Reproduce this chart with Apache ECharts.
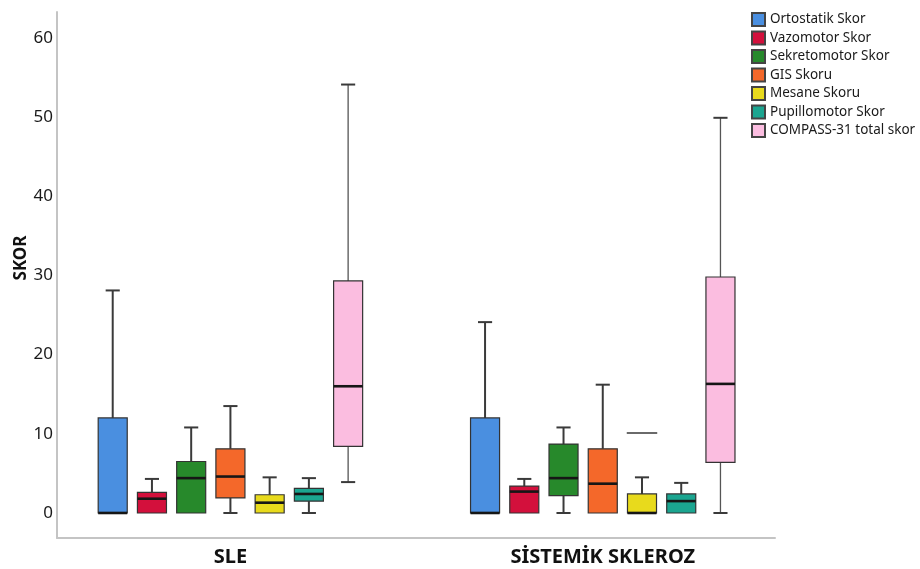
<!DOCTYPE html>
<html>
<head>
<meta charset="utf-8">
<title>COMPASS-31 skorları</title>
<script src="https://cdn.jsdelivr.net/npm/echarts@6/dist/echarts.min.js"></script>
<style>
  html, body { margin: 0; padding: 0; background: #ffffff; }
  #chart { width: 920px; height: 569px; }
</style>
</head>
<body>
<div id="chart"></div>
<script>
// Hasta grupları (x ekseni)
const groups = ['SLE', 'SİSTEMİK SKLEROZ'];

// Alt skorlar (lejant sırası)
const scores = [
  'Ortostatik Skor',
  'Vazomotor Skor',
  'Sekretomotor Skor',
  'GIS Skoru',
  'Mesane Skoru',
  'Pupillomotor Skor',
  'COMPASS-31 total skor'
];

const scoreColors = ['#4a8fe0', '#d3103c', '#27892b', '#f4682a', '#e8da1c', '#1ba590', '#fbbde0'];

// Kutu grafiği istatistikleri: [min, Q1, medyan, Q3, maks]
const sleStats = [
  [0, 0, 0, 12.0, 28.1],
  [0, 0, 1.8, 2.6, 4.3],
  [0, 0, 4.4, 6.5, 10.8],
  [0, 1.9, 4.6, 8.1, 13.5],
  [0, 0, 1.3, 2.3, 4.5],
  [0, 1.5, 2.4, 3.1, 4.4],
  [3.9, 8.4, 16.0, 29.3, 54.1]
];

const sscStats = [
  [0, 0, 0, 12.0, 24.1],
  [0, 0, 2.7, 3.4, 4.3],
  [0, 2.2, 4.4, 8.7, 10.8],
  [0, 0, 3.7, 8.1, 16.2],
  [0, 0, 0, 2.4, 4.5],
  [0, 0, 1.5, 2.4, 3.8],
  [0, 6.4, 16.3, 29.8, 49.9]
];

// Aykırı değerler: [grup indeksi, skor indeksi, değer]
const outliers = [
  [1, 4, 10.1]
];

const yTicks = [0, 10, 20, 30, 40, 50, 60];

// ---- layout (x axis runs in units of one box pitch) ----
const X_MAX = 18.3;
const groupCenters = [4.42, 13.91];
const BOX_W = 0.74;
const CAP_W = 0.36;
const FONT = '"Noto Sans", "Open Sans", sans-serif';

function boxX(g, k) {
  return groupCenters[g] + (k - (scores.length - 1) / 2);
}

function groupLabel(v) {
  let best = 0;
  groupCenters.forEach(function (c, i) {
    if (Math.abs(c - v) < Math.abs(groupCenters[best] - v)) best = i;
  });
  return groups[best];
}

function makeBoxRenderer(k) {
  const thin = k === scores.length - 1;
  return function (params, api) {
    const g = api.value(0);
    const xc = boxX(g, k);
    const mn = api.value(1), q1 = api.value(2), md = api.value(3), q3 = api.value(4), mx = api.value(5);
    const half = api.size([BOX_W, 0])[0] / 2;
    const capHalf = api.size([CAP_W, 0])[0] / 2;
    const c = api.coord([xc, 0])[0];
    const y = v => api.coord([xc, v])[1];
    const whisker = { stroke: thin ? '#555555' : '#3a3a3a', lineWidth: thin ? 1.3 : 2 };
    const cap = { stroke: '#3a3a3a', lineWidth: 2 };
    const children = [];
    if (mx > q3) {
      children.push({ type: 'line', shape: { x1: c, y1: y(q3), x2: c, y2: y(mx) }, style: whisker });
      children.push({ type: 'line', shape: { x1: c - capHalf, y1: y(mx), x2: c + capHalf, y2: y(mx) }, style: cap });
    }
    if (mn < q1) {
      children.push({ type: 'line', shape: { x1: c, y1: y(q1), x2: c, y2: y(mn) }, style: whisker });
      children.push({ type: 'line', shape: { x1: c - capHalf, y1: y(mn), x2: c + capHalf, y2: y(mn) }, style: cap });
    }
    children.push({
      type: 'rect',
      shape: { x: c - half, y: y(q3), width: half * 2, height: y(q1) - y(q3) },
      style: { fill: api.visual('color'), stroke: '#333333', lineWidth: 1.2 }
    });
    children.push({
      type: 'line',
      shape: { x1: c - half, y1: y(md), x2: c + half, y2: y(md) },
      style: { stroke: '#161616', lineWidth: 2.6 }
    });
    return { type: 'group', children: children };
  };
}

const boxSeries = scores.map(function (name, k) {
  return {
    name: name,
    type: 'custom',
    renderItem: makeBoxRenderer(k),
    itemStyle: { color: scoreColors[k], borderColor: '#444444', borderWidth: 1 },
    encode: { x: 0, y: [1, 2, 3, 4, 5] },
    data: [[0].concat(sleStats[k]), [1].concat(sscStats[k])],
    z: 3
  };
});

const outlierSeries = {
  type: 'custom',
  renderItem: function (params, api) {
    const p = api.coord([api.value(0), api.value(1)]);
    const half = api.size([BOX_W * 1.05, 0])[0] / 2;
    return {
      type: 'line',
      shape: { x1: p[0] - half, y1: p[1], x2: p[0] + half, y2: p[1] },
      style: { stroke: '#6a6a6a', lineWidth: 2 }
    };
  },
  encode: { x: 0, y: 1 },
  data: outliers.map(o => [boxX(o[0], o[1]), o[2]]),
  z: 3
};

const chart = echarts.init(document.getElementById('chart'), null, { renderer: 'canvas' });

chart.setOption({
  animation: false,
  backgroundColor: '#ffffff',
  grid: {
    left: 57, right: 145, top: 12, bottom: 31,
    containLabel: false,
    outerBoundsMode: 'none'
  },
  legend: {
    data: scores,
    orient: 'vertical',
    left: 746,
    top: 7,
    icon: 'rect',
    itemWidth: 13,
    itemHeight: 13,
    itemGap: 3.5,
    textStyle: { fontFamily: FONT, fontSize: 13.5, color: '#1a1a1a' }
  },
  xAxis: {
    type: 'value',
    min: 0,
    max: X_MAX,
    splitLine: { show: false },
    axisTick: { show: false },
    axisLine: { show: true, onZero: false, lineStyle: { color: '#c4c4c4', width: 2 } },
    axisLabel: {
      show: true,
      customValues: groupCenters,
      showMinLabel: true,
      showMaxLabel: true,
      hideOverlap: false,
      formatter: function (v) { return groupLabel(v); },
      margin: 9,
      fontFamily: FONT,
      fontWeight: 'bold',
      fontSize: 20,
      color: '#111111'
    }
  },
  yAxis: {
    type: 'value',
    min: -3.16,
    max: 63.26,
    name: 'SKOR',
    nameLocation: 'middle',
    nameGap: 27,
    nameMoveOverlap: false,
    nameTextStyle: {
      fontFamily: FONT, fontWeight: 'bold', fontSize: 17, color: '#111111',
      padding: [0, 0, 0, 34]
    },
    splitLine: { show: false },
    axisTick: { show: false },
    axisLine: { show: true, onZero: false, lineStyle: { color: '#c4c4c4', width: 2 } },
    axisLabel: {
      customValues: yTicks,
      margin: 4,
      fontFamily: FONT,
      fontSize: 17,
      color: '#1a1a1a'
    }
  },
  series: boxSeries.concat([outlierSeries])
});
</script>
</body>
</html>
